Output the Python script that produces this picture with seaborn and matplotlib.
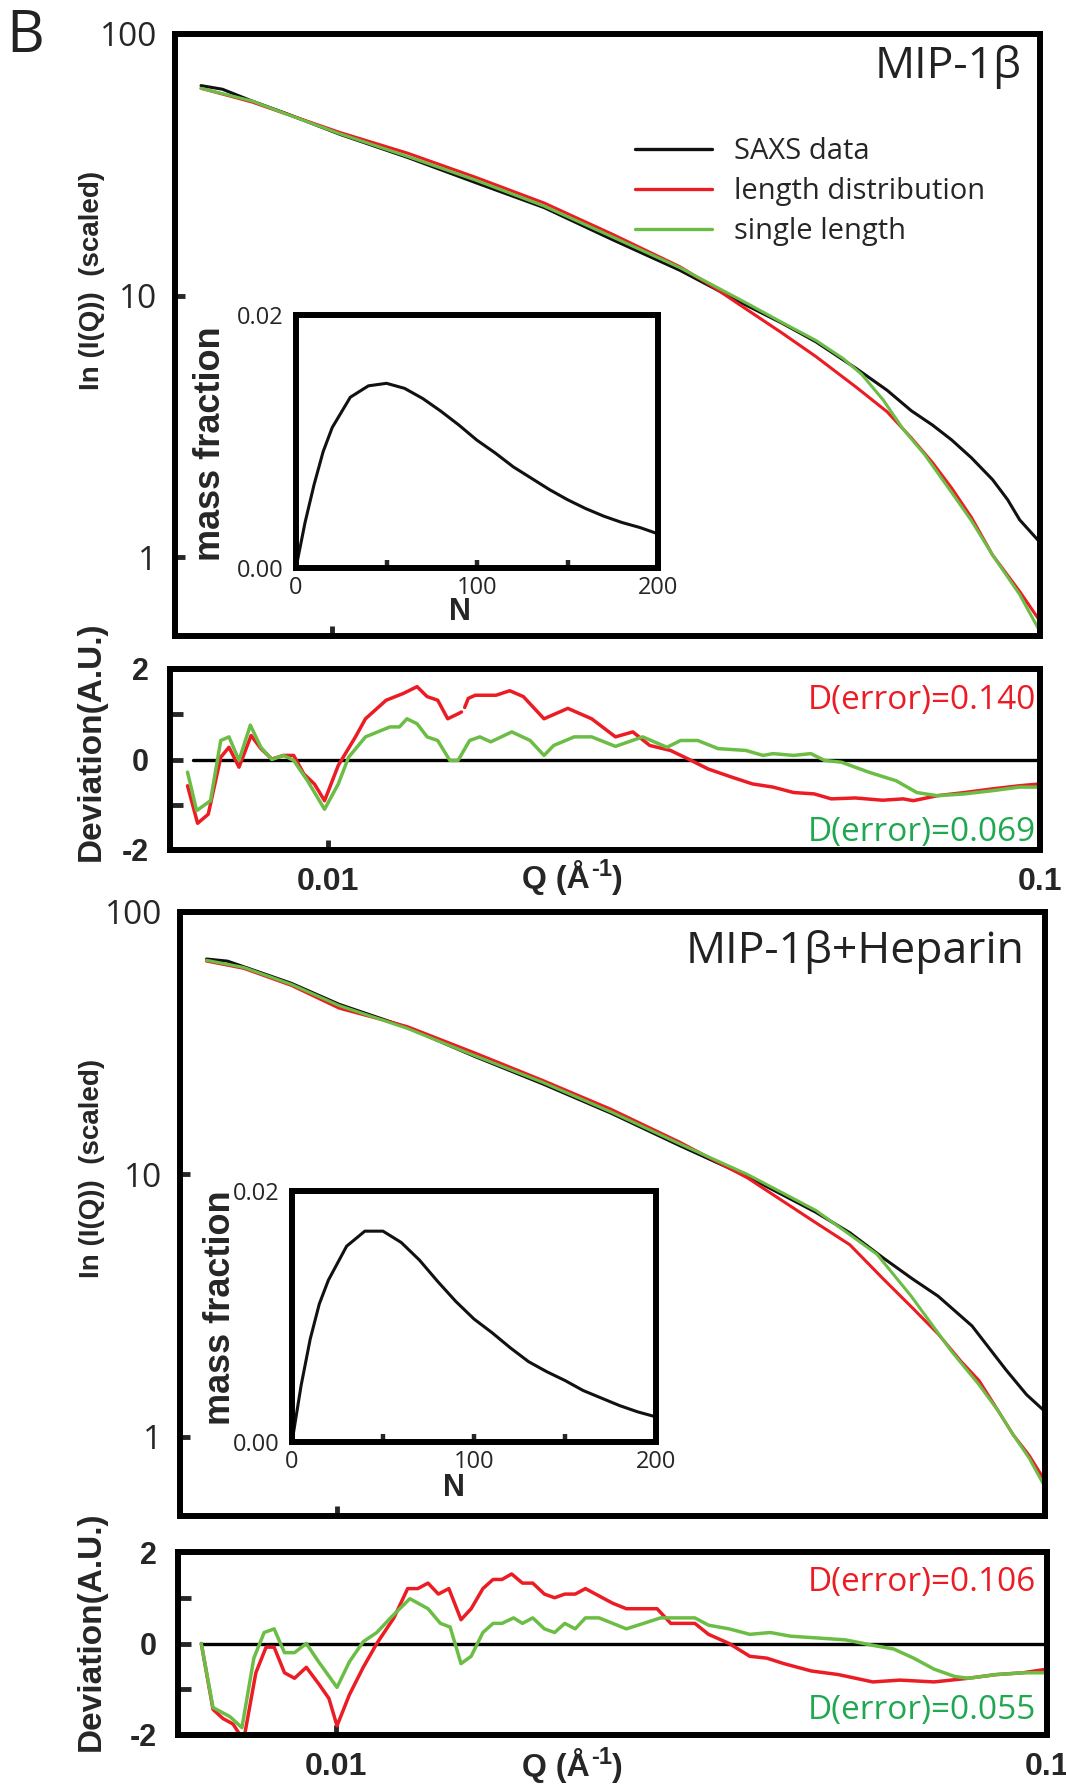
import matplotlib
matplotlib.use('Agg')
import matplotlib.pyplot as plt
from matplotlib.lines import Line2D
from matplotlib.ticker import NullLocator
import numpy as np
import seaborn as sns

# ---------------- data ----------------
# MIP-1beta, scattering curves
q_saxs_1 = [0.00653, 0.0070, 0.0077, 0.00861, 0.01027, 0.0128, 0.01597, 0.01993, 0.02485, 0.03099,
            0.03868, 0.0432, 0.0482, 0.0551, 0.0608, 0.0658, 0.0705, 0.0750, 0.0800, 0.0857, 0.0900, 0.0936, 0.1000]
i_saxs_1 = [63.5, 61.5, 55.5, 49.7, 41.3, 33.7, 27.0, 21.7, 16.4, 12.5,
            9.12, 7.85, 6.67, 5.25, 4.35, 3.63, 3.2, 2.81, 2.4, 1.98, 1.66, 1.39, 1.14]
q_dist_1 = [0.00653, 0.0077, 0.00861, 0.01027, 0.0128, 0.01597, 0.01993, 0.02485, 0.03099, 0.0346,
            0.03868, 0.0432, 0.0482, 0.0551, 0.0608, 0.0658, 0.0705, 0.0750, 0.0800, 0.0857, 0.0936, 0.1000]
i_dist_1 = [62.0, 55.0, 49.5, 42.0, 35.0, 28.3, 22.6, 17.2, 12.9, 10.76,
            8.79, 7.2, 5.86, 4.45, 3.6, 2.86, 2.3, 1.84, 1.42, 1.02, 0.74, 0.57]
q_single_1 = [0.00653, 0.0077, 0.00861, 0.01027, 0.0128, 0.01597, 0.01993, 0.02485, 0.03099, 0.03868,
              0.0432, 0.0482, 0.0527, 0.0560, 0.0601, 0.0640, 0.0687, 0.0750, 0.0800, 0.0857, 0.0936, 0.1000]
i_single_1 = [62.0, 55.5, 49.5, 41.5, 34.0, 27.6, 22.0, 16.8, 12.8, 9.3,
              7.9, 6.75, 5.75, 5.0, 3.98, 3.1, 2.47, 1.77, 1.38, 1.02, 0.72, 0.52]

# MIP-1beta, deviations
q_dev_dist_1 = [0.00635, 0.00656, 0.00679, 0.00707, 0.00726, 0.00750, 0.00780, 0.00805, 0.00834, 0.00866,
                0.00895, 0.00925, 0.00957, 0.00989, 0.01034, 0.01093, 0.01129, 0.01207, 0.01276, 0.01334,
                0.01378, 0.01426, 0.01473, 0.01523, 0.01540, 0.01548, 0.01556, 0.01574, 0.01610, 0.01722,
                0.01800, 0.01881, 0.02011, 0.02172, 0.02346, 0.02534, 0.02680, 0.02831, 0.03027, 0.03236,
                0.03420, 0.03691, 0.03947, 0.04218, 0.04508, 0.04818, 0.05092, 0.05502, 0.06012, 0.06424,
                0.06640, 0.07174, 0.07838, 0.08566, 0.09360, 0.10000]
d_dist_1 = [-0.58, -1.41, -1.21, 0.05, 0.27, -0.17, 0.53, 0.24, 0.01, 0.09,
            0.09, -0.32, -0.54, -0.91, -0.13, 0.50, 0.90, 1.31, 1.46, 1.61,
            1.39, 1.31, 0.90, 1.01, 1.05, np.nan, 1.15, 1.35, 1.42, 1.42,
            1.52, 1.39, 0.90, 1.13, 0.90, 0.50, 0.61, 0.31, 0.20, -0.02,
            -0.21, -0.39, -0.54, -0.61, -0.73, -0.76, -0.87, -0.85, -0.90, -0.87,
            -0.91, -0.80, -0.73, -0.65, -0.58, -0.54]
q_dev_single_1 = [0.00635, 0.00654, 0.00684, 0.00707, 0.00726, 0.00750, 0.00778, 0.00805, 0.00834, 0.00866,
                  0.00895, 0.00936, 0.00989, 0.01034, 0.01069, 0.01129, 0.01222, 0.01260, 0.01291, 0.01334,
                  0.01378, 0.01426, 0.01483, 0.01523, 0.01581, 0.01634, 0.01693, 0.01812, 0.01923, 0.02011,
                  0.02075, 0.02217, 0.02346, 0.02534, 0.02767, 0.02993, 0.03128, 0.03306, 0.03532, 0.03864,
                  0.04083, 0.04218, 0.04508, 0.04766, 0.04982, 0.05263, 0.05748, 0.06280, 0.06714, 0.07174,
                  0.07838, 0.08566, 0.09360, 0.10000]
d_single_1 = [-0.28, -1.13, -0.91, 0.42, 0.50, -0.02, 0.76, 0.27, 0.00, 0.09,
              -0.02, -0.47, -1.10, -0.54, 0.05, 0.50, 0.72, 0.72, 0.90, 0.79,
              0.50, 0.42, -0.02, -0.02, 0.42, 0.50, 0.39, 0.61, 0.42, 0.09,
              0.31, 0.50, 0.50, 0.29, 0.50, 0.27, 0.42, 0.42, 0.24, 0.20,
              0.09, 0.13, 0.09, 0.13, -0.02, -0.06, -0.28, -0.47, -0.73, -0.80,
              -0.76, -0.69, -0.61, -0.61]

# MIP-1beta + Heparin, scattering curves
q_saxs_2 = [0.00654, 0.0070, 0.00738, 0.00862, 0.01007, 0.01257, 0.01568, 0.01955, 0.0244, 0.03045,
            0.03801, 0.04745, 0.0530, 0.05921, 0.0650, 0.07063, 0.07886, 0.08811, 0.09417, 0.1000]
i_saxs_2 = [66.2, 65.0, 61.9, 53.5, 44.5, 36.3, 28.1, 22.1, 17.1, 12.9,
            9.82, 7.18, 6.0, 4.79, 4.0, 3.44, 2.65, 1.80, 1.45, 1.25]
q_dist_2 = [0.00654, 0.00738, 0.00862, 0.01007, 0.01257, 0.01568, 0.01955, 0.0244, 0.03045, 0.03801,
            0.04745, 0.0530, 0.05921, 0.0650, 0.07063, 0.0760, 0.0807, 0.0860, 0.09016, 0.0950, 0.1000]
i_dist_2 = [65.0, 61.0, 52.5, 43.0, 36.6, 29.0, 22.8, 17.7, 13.3, 9.7,
            6.55, 5.4, 3.98, 3.1, 2.47, 1.95, 1.64, 1.25, 1.02, 0.85, 0.68]
q_single_2 = [0.00654, 0.00738, 0.00862, 0.01007, 0.01257, 0.01568, 0.01955, 0.0244, 0.03045, 0.03801,
              0.04745, 0.0530, 0.05789, 0.06471, 0.07367, 0.0807, 0.0860, 0.09016, 0.0950, 0.1000]
i_single_2 = [65.5, 61.5, 53.0, 44.0, 36.0, 28.3, 22.4, 17.3, 13.1, 10.0,
              7.3, 5.9, 4.97, 3.44, 2.13, 1.58, 1.25, 1.02, 0.83, 0.645]

# MIP-1beta + Heparin, deviations
q_dev_dist_2 = [0.00647, 0.00672, 0.00694, 0.00717, 0.00742, 0.00772, 0.00798, 0.00819, 0.00847, 0.00875,
                0.00909, 0.00946, 0.00978, 0.01004, 0.01045, 0.01093, 0.01142, 0.01207, 0.01262, 0.01304,
                0.01348, 0.01394, 0.01442, 0.01500, 0.01550, 0.01610, 0.01664, 0.01713, 0.01767, 0.01830,
                0.01892, 0.01965, 0.02031, 0.02099, 0.02171, 0.02244, 0.02345, 0.02451, 0.02562, 0.02678,
                0.02830, 0.02958, 0.03198, 0.03343, 0.03574, 0.03821, 0.04037, 0.04266, 0.04660, 0.05092,
                0.05689, 0.06211, 0.06937, 0.07749, 0.08470, 0.09250, 0.10000]
d_dist_2 = [0.00, -1.44, -1.64, -1.76, -2.12, -0.64, -0.08, -0.08, -0.64, -0.76,
            -0.52, -0.88, -1.20, -1.80, -1.12, -0.52, 0.00, 0.56, 1.20, 1.20,
            1.32, 1.08, 1.20, 0.52, 0.76, 1.20, 1.40, 1.40, 1.52, 1.32,
            1.32, 1.08, 1.00, 1.08, 1.08, 1.20, 1.04, 0.88, 0.76, 0.76,
            0.76, 0.44, 0.44, 0.20, 0.00, -0.28, -0.32, -0.44, -0.60, -0.68,
            -0.84, -0.80, -0.84, -0.76, -0.68, -0.64, -0.56]
q_dev_single_2 = [0.00647, 0.00672, 0.00710, 0.00738, 0.00767, 0.00793, 0.00819, 0.00847, 0.00875, 0.00909,
                  0.00946, 0.01004, 0.01045, 0.01093, 0.01142, 0.01194, 0.01271, 0.01348, 0.01403, 0.01448,
                  0.01500, 0.01550, 0.01610, 0.01664, 0.01713, 0.01778, 0.01830, 0.01892, 0.01965, 0.02031,
                  0.02099, 0.02171, 0.02244, 0.02345, 0.02451, 0.02562, 0.02709, 0.02862, 0.03060, 0.03198,
                  0.03343, 0.03574, 0.03821, 0.04083, 0.04358, 0.04763, 0.05205, 0.05689, 0.06086, 0.06494,
                  0.06937, 0.07413, 0.07749, 0.08470, 0.09250, 0.10000]
d_single_2 = [0.00, -1.40, -1.60, -1.84, -0.32, 0.24, 0.32, -0.20, -0.20, 0.00,
              -0.40, -0.96, -0.40, 0.04, 0.24, 0.56, 0.98, 0.76, 0.44, 0.36,
              -0.44, -0.28, 0.24, 0.44, 0.44, 0.56, 0.44, 0.56, 0.32, 0.24,
              0.44, 0.32, 0.56, 0.56, 0.44, 0.32, 0.44, 0.56, 0.56, 0.56,
              0.40, 0.32, 0.20, 0.24, 0.16, 0.12, 0.08, -0.04, -0.12, -0.32,
              -0.56, -0.72, -0.76, -0.68, -0.64, -0.64]

# insets: length distribution (mass fraction vs N)
n_inset = [0, 5, 10, 15, 20, 30, 40, 50, 60, 70, 80, 90, 100, 110, 120, 130, 140, 150, 160, 170, 180, 190, 200]
mass_1 = [0.0, 0.0036, 0.0066, 0.0092, 0.0111, 0.0135, 0.0144, 0.0146, 0.0142, 0.0134, 0.0124, 0.0113,
          0.0101, 0.0091, 0.0080, 0.0071, 0.0062, 0.0054, 0.0047, 0.0041, 0.0036, 0.0032, 0.0027]
mass_2 = [0.0, 0.0045, 0.0082, 0.0110, 0.0129, 0.0156, 0.0168, 0.0168, 0.0159, 0.0145, 0.0128, 0.0112,
          0.0098, 0.0087, 0.0075, 0.0064, 0.0056, 0.0049, 0.0041, 0.0035, 0.0029, 0.0024, 0.0020]

legend_labels = ['SAXS data', 'length distribution', 'single length']
panel_titles = ['MIP-1\u03b2', 'MIP-1\u03b2+Heparin']
errors_dist = ['D(error)=0.140', 'D(error)=0.106']
errors_single = ['D(error)=0.069', 'D(error)=0.055']

# ---------------- style ----------------
BLACK, RED, GREEN, GREEN_TXT = '#111111', '#ec1c24', '#6cbd45', '#1fa84f'
LIGHT = ['Open Sans', 'DejaVu Sans']
BOLD = ['Liberation Sans', 'DejaVu Sans']

sns.set_style('ticks')
plt.rcParams['font.family'] = LIGHT

W, H = 1066, 1787
fig = plt.figure(figsize=(W / 100, H / 100), dpi=100)
fig.patch.set_facecolor('white')


def fx(x):
    return x / W


def fy(y):
    return 1 - y / H


def box(l, t, r, b):
    return [l / W, 1 - b / H, (r - l) / W, (b - t) / H]


def frame(ax, lw=4.3):
    for s in ax.spines.values():
        s.set_visible(True)
        s.set_linewidth(lw)
        s.set_color('black')
    ax.set_facecolor('white')
    ax.set_xlabel('')
    ax.set_ylabel('')


def draw(ax, q, v, color, lw):
    q = np.asarray(q, float)
    v = np.asarray(v, float)
    gaps = np.flatnonzero(np.isnan(v))
    for sq, sv in zip(np.split(q, gaps), np.split(v, gaps)):
        m = ~np.isnan(sv)
        if m.sum() > 1:
            sns.lineplot(x=sq[m], y=sv[m], ax=ax, color=color, lw=lw, estimator=None, sort=False)


def q_label(x, y):
    # "Q (Å" + raised "-1" + ")"
    fig.text(fx(x), fy(y), 'Q (\u00c5', ha='right', va='baseline',
             fontsize=23, family=BOLD, fontweight='bold')
    fig.text(fx(x + 1), fy(y - 12), '-1', ha='left', va='baseline',
             fontsize=17, family=BOLD, fontweight='bold')
    fig.text(fx(x + 22), fy(y), ')', ha='left', va='baseline',
             fontsize=23, family=BOLD, fontweight='bold')


def main_panel(rect, saxs, dist, single, title, title_xy):
    ax = fig.add_axes(rect)
    ax.set_xscale('log')
    ax.set_yscale('log')
    draw(ax, *saxs, BLACK, 2.2)
    draw(ax, *dist, RED, 2.2)
    draw(ax, *single, GREEN, 2.2)
    ax.set_xlim(0.006, 0.1)
    ax.set_ylim(0.5, 100)
    ax.xaxis.set_minor_locator(NullLocator())
    ax.yaxis.set_minor_locator(NullLocator())
    ax.set_xticks([0.01], labels=[''])
    ax.set_yticks([1, 10, 100], labels=['1', '10', '100'], fontsize=24, fontfamily=LIGHT)
    ax.tick_params(direction='in', length=7, width=3.5, pad=13)
    frame(ax)
    fig.text(fx(title_xy[0]), fy(title_xy[1]), title, ha='right', va='baseline',
             fontsize=32, family=LIGHT, color='#222222')
    return ax


def dev_panel(rect, dist, single, err_d, err_s, err_y, label_y):
    ax = fig.add_axes(rect)
    ax.set_xscale('log')
    ax.axhline(0, xmin=0.027, color='black', lw=2.4, zorder=1)
    draw(ax, *dist, RED, 2.5)
    draw(ax, *single, GREEN, 2.5)
    ax.set_xlim(0.006, 0.1)
    ax.set_ylim(-2, 2)
    ax.xaxis.set_minor_locator(NullLocator())
    ax.set_xticks([0.01, 0.1], labels=['0.01', '0.1'], fontsize=23, fontfamily=BOLD, fontweight='bold')
    ax.set_yticks([-2, -1, 0, 1, 2], labels=['-2', '', '0', '', '2'], fontsize=22,
                  fontfamily=BOLD, fontweight='bold')
    ax.tick_params(axis='x', direction='in', length=7, width=3.5, pad=12)
    ax.tick_params(axis='y', direction='in', length=9, width=3.5, pad=15)
    frame(ax)
    fig.text(fx(1036), fy(err_y[0]), err_d, ha='right', va='center', fontsize=24, family=LIGHT, color=RED)
    fig.text(fx(1036), fy(err_y[1]), err_s, ha='right', va='center', fontsize=24, family=LIGHT, color=GREEN_TXT)
    q_label(590, label_y)
    return ax


def inset(rect, mass, nlab_xy, ylab_xy):
    ax = fig.add_axes(rect, zorder=5)
    sns.lineplot(x=n_inset, y=mass, ax=ax, color=BLACK, lw=2.2, estimator=None, sort=False)
    ax.set_xlim(0, 200)
    ax.set_ylim(0, 0.02)
    ax.set_xticks([0, 50, 100, 150, 200], labels=['0', '', '100', '', '200'], fontsize=17, fontfamily=LIGHT)
    ax.set_yticks([0, 0.02], labels=['0.00', '0.02'], fontsize=17, fontfamily=LIGHT)
    ax.tick_params(axis='x', direction='in', length=6, width=3.2, pad=6)
    ax.tick_params(axis='y', direction='in', length=0, pad=9)
    frame(ax)
    fig.text(fx(nlab_xy[0]), fy(nlab_xy[1]), 'N', ha='center', va='center', fontsize=22,
             family=BOLD, fontweight='bold')
    fig.text(fx(ylab_xy[0]), fy(ylab_xy[1]), 'mass fraction', ha='center', va='center', rotation=90,
             fontsize=26, family=BOLD, fontweight='bold')
    return ax


# ---------------- panel 1: MIP-1beta ----------------
ax_m1 = main_panel(box(175, 34, 1040, 636), (q_saxs_1, i_saxs_1), (q_dist_1, i_dist_1),
                   (q_single_1, i_single_1), panel_titles[0], (1022, 78))
ax_d1 = dev_panel(box(170, 669, 1040, 850), (q_dev_dist_1, d_dist_1), (q_dev_single_1, d_single_1),
                  errors_dist[0], errors_single[0], (700, 832), 888)
inset(box(296, 315, 658, 568), mass_1, (460, 612), (211, 444))

handles = [Line2D([], [], color=c, lw=2.4) for c in (BLACK, RED, GREEN)]
ax_m1.legend(handles, legend_labels, loc='upper left', bbox_to_anchor=(fx(635), fy(137)),
             bbox_transform=fig.transFigure, frameon=False, borderpad=0, borderaxespad=0,
             handlelength=2.65, handletextpad=0.74, labelspacing=0.38,
             prop={'family': LIGHT, 'size': 21})

# ---------------- panel 2: MIP-1beta + Heparin ----------------
ax_m2 = main_panel(box(180, 912, 1045, 1516), (q_saxs_2, i_saxs_2), (q_dist_2, i_dist_2),
                   (q_single_2, i_single_2), panel_titles[1], (1024, 963))
ax_d2 = dev_panel(box(178, 1552, 1047, 1735), (q_dev_dist_2, d_dist_2), (q_dev_single_2, d_single_2),
                  errors_dist[1], errors_single[1], (1582, 1710), 1776)
inset(box(292, 1191, 656, 1442), mass_2, (454, 1488), (221, 1308))

# ---------------- shared labels ----------------
for yc in (280, 1168):
    fig.text(fx(92), fy(yc), 'In (I(Q))  (scaled)', rotation=90, ha='center', va='center',
             fontsize=20, family=BOLD, fontweight='bold')
for yc in (741, 1631):
    fig.text(fx(91), fy(yc), 'Deviation(A.U.)', rotation=90, ha='center', va='center',
             fontsize=24, family=BOLD, fontweight='bold')

fig.text(fx(25), fy(37), 'B', ha='center', va='center', fontsize=42, family=LIGHT, color='#222222')

fig.savefig('out.png', dpi=100)
